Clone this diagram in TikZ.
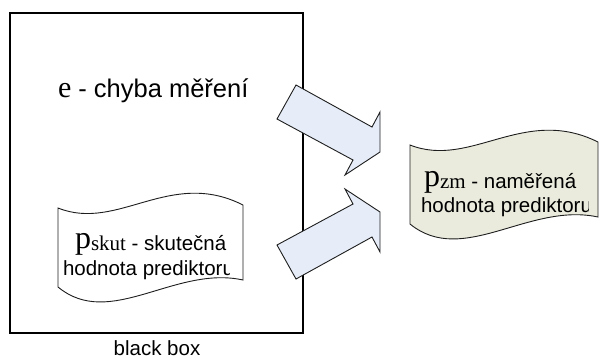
\documentclass[tikz,border=0pt]{standalone}
\usepackage{fontspec}
\setmainfont{Liberation Sans}
\newfontfamily\tms{Liberation Serif}
\definecolor{arrowfill}{RGB}{230,237,248}
\definecolor{docfill}{RGB}{234,235,221}
\definecolor{edge}{RGB}{30,30,30}
\begin{document}
\begin{tikzpicture}[x=1pt,y=-1pt,
  txt/.style={anchor=base west, inner sep=0pt, outer sep=0pt,
              font=\fontsize{20.5}{24}\selectfont},
  fatarrow/.style={fill=arrowfill, draw=edge, line width=0.9pt, line join=miter},
  tape/.style={draw=edge, line width=0.9pt}]
\useasboundingbox (0,0) rectangle (599,360);

% the black box
\draw[line width=1.3pt] (10,13) rectangle (303,333);
\node[anchor=base, inner sep=0pt, font=\fontsize{20.5}{24}\selectfont] (bb) at (157,355) {black box};

% measurement error
\node[txt, font=\fontsize{25.5}{30}\selectfont] (err) at (58,97)
  {{\tms\fontsize{30}{30}\selectfont e} - chyba měření};

% true value of the predictor (tape shape)
\begin{scope}[shift={(58,208)}]
  \draw[tape, fill=white] (0,0) .. controls (60,24) and (112,-40) .. (185,-3)
    -- (185,72) .. controls (117,57) and (52,122) .. (0,79) -- cycle;
\end{scope}
\node[txt] (pskut) at (75,250)
  {\raisebox{2pt}{\tms\fontsize{32}{32}\selectfont p}{\tms\fontsize{21}{21}\selectfont skut} - skutečná};
\begin{scope}
  \clip (58,250) rectangle (229.8,290);
  \node[txt] (pskut2) at (63,275) {hodnota prediktoru};
\end{scope}

% measured value of the predictor (tape shape)
\begin{scope}[shift={(410,145)}, xscale=1.016]
  \draw[tape, fill=docfill] (0,0) .. controls (60,24) and (112,-40) .. (185,-3)
    -- (185,72) .. controls (117,57) and (52,122) .. (0,79) -- cycle;
\end{scope}
\node[txt] (pzm) at (424,188)
  {\raisebox{2pt}{\tms\fontsize{32}{32}\selectfont p}{\tms\fontsize{21}{21}\selectfont zm} - naměřená};
\begin{scope}
  \clip (410,185) rectangle (588.3,230);
  \node[txt] (pzm2) at (421,212) {hodnota prediktoru};
\end{scope}

% block arrows
\draw[fatarrow] (277,119) -- (353,160) -- (345,175) -- (380,152) -- (380,112)
  -- (372,127) -- (296,85) -- cycle;
\draw[fatarrow] (277,245) -- (353,204) -- (345,189) -- (380,212) -- (380,252)
  -- (372,237) -- (296,279) -- cycle;
\end{tikzpicture}
\end{document}
